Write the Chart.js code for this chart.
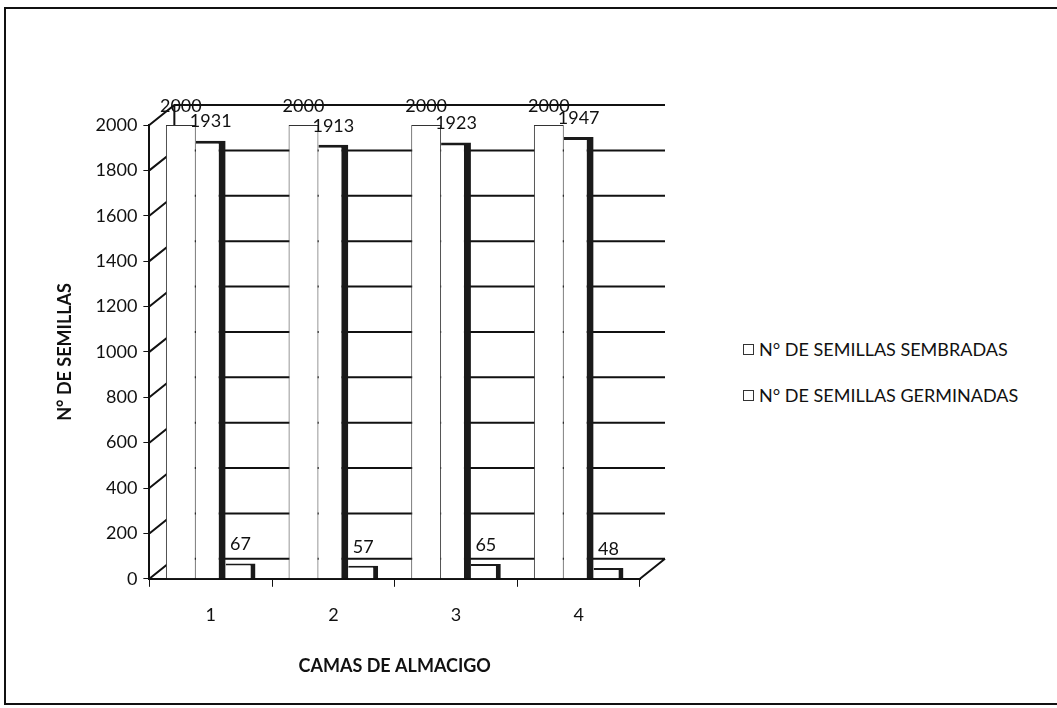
<html>
<head>
<title>Semillas</title>
<script src="https://cdn.jsdelivr.net/npm/chart.js@4.4.0/dist/chart.umd.min.js"></script>
<style>
  body{margin:0;background:#fff;font-family:Lato, sans-serif;color:#111;}
  #frame{position:absolute;left:4px;top:7px;width:1060px;height:694px;border:2px solid #111;}
  #wrap{position:absolute;left:0;top:0;width:700px;height:708px;}
  #legend{position:absolute;left:743px;top:337px;font-size:18px;}
  #legend div{height:46px;line-height:24px;white-space:nowrap;}
  #legend span{display:inline-block;width:9px;height:9px;border:1.5px solid #333;margin-right:5px;vertical-align:1px;}
</style>
</head>
<body>
<div id="frame"></div>
<div id="wrap"><canvas id="chart"></canvas></div>
<div id="legend"></div>
<script>
var camas = ['1', '2', '3', '4'];
var sembradas = [2000, 2000, 2000, 2000];
var germinadas = [1931, 1913, 1923, 1947];
var noGerminadas = [67, 57, 65, 48];
var series = ['N° DE SEMILLAS SEMBRADAS', 'N° DE SEMILLAS GERMINADAS', 'N° DE SEMILLAS NO GERMINADAS'];

// back wall + floor of the fake 3d box
var wall = {
  id: 'wall',
  beforeDatasetsDraw: function(chart) {
    var ctx = chart.ctx, a = chart.chartArea, y = chart.scales.y;
    var dx = 25, dy = -20;
    ctx.save();
    ctx.strokeStyle = '#111';
    ctx.lineWidth = 2;
    ctx.beginPath();
    y.ticks.forEach(function(t) {
      var py = y.getPixelForValue(t.value);
      ctx.moveTo(a.left, py);
      ctx.lineTo(a.left + dx, py + dy);
      ctx.lineTo(a.right + dx, py + dy);
    });
    ctx.moveTo(a.left + dx, y.getPixelForValue(y.max) + dy);
    ctx.lineTo(a.left + dx, y.getPixelForValue(0) + dy);
    ctx.moveTo(a.right, a.bottom);
    ctx.lineTo(a.right + dx, a.bottom + dy);
    ctx.stroke();
    ctx.restore();
  }
};

// numbers on top of the bars
var valores = {
  id: 'valores',
  afterDatasetsDraw: function(chart) {
    var ctx = chart.ctx;
    ctx.save();
    ctx.font = '18px Lato';
    ctx.fillStyle = '#111';
    ctx.textAlign = 'center';
    ctx.textBaseline = 'bottom';
    chart.data.datasets.forEach(function(ds, i) {
      chart.getDatasetMeta(i).data.forEach(function(bar, j) {
        ctx.fillText(ds.data[j], bar.x, bar.y - 10);
      });
    });
    ctx.restore();
  }
};

new Chart(document.getElementById('chart'), {
  type: 'bar',
  data: {
    labels: camas,
    datasets: [
      {
        label: series[0],
        data: sembradas,
        backgroundColor: '#fff',
        borderColor: '#333',
        borderWidth: 1
      },
      {
        label: series[1],
        data: germinadas,
        backgroundColor: '#fff',
        borderColor: '#1a1a1a',
        borderWidth: {top: 3, right: 7, left: 0, bottom: 0}
      },
      {
        label: series[2],
        data: noGerminadas,
        backgroundColor: '#fff',
        borderColor: '#1a1a1a',
        borderWidth: {top: 2, right: 5, left: 0, bottom: 0}
      }
    ]
  },
  options: {
    responsive: true,
    maintainAspectRatio: false,
    animation: false,
    datasets: {bar: {categoryPercentage: 0.73, barPercentage: 1}},
    layout: {padding: {top: 125, left: 50, right: 60, bottom: 27}},
    plugins: {
      tooltip: {enabled: false},
      legend: {display: false}
    },
    scales: {
      x: {
        offset: true,
        grid: {display: true, drawOnChartArea: false, drawTicks: true, tickLength: 8, color: '#111', offset: true},
        border: {color: '#111', width: 2},
        ticks: {color: '#111', font: {family: 'Lato', size: 18}, padding: 18},
        title: {display: true, text: 'CAMAS DE ALMACIGO', color: '#111', font: {family: 'Lato', size: 18, weight: 'bold'}, padding: {top: 11}}
      },
      y: {
        min: 0,
        max: 2000,
        ticks: {stepSize: 200, color: '#111', font: {family: 'Lato', size: 18}, padding: 6,
          callback: function(v) { return String(v); }},
        grid: {display: true, drawOnChartArea: false, drawTicks: true, tickLength: 6, color: '#111'},
        border: {color: '#111', width: 2},
        title: {display: true, text: 'N° DE SEMILLAS', color: '#111', font: {family: 'Lato', size: 18, weight: 'bold'}, padding: {bottom: 14}}
      }
    }
  },
  plugins: [wall, valores]
});

// legend: only the first two series, as in the original
var lg = document.getElementById('legend');
series.slice(0, 2).forEach(function(s) {
  var row = document.createElement('div');
  var box = document.createElement('span');
  row.appendChild(box);
  row.appendChild(document.createTextNode(s));
  lg.appendChild(row);
});
</script>
</body>
</html>
